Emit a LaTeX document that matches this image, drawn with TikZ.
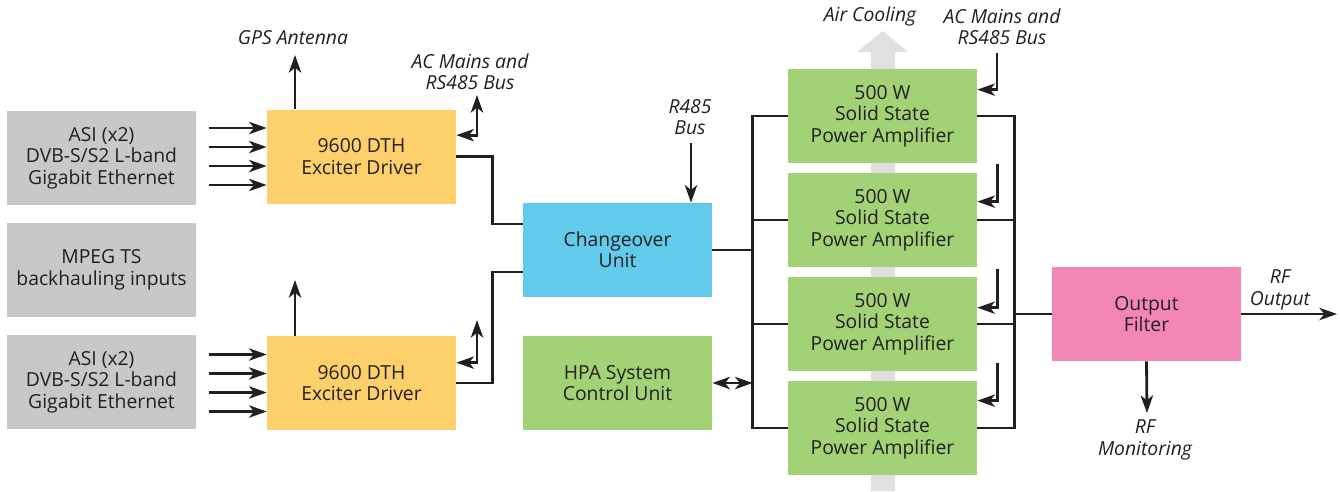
\documentclass[tikz,border=0pt]{standalone}
\usepackage{fontspec}
\setmainfont{Open Sans}
\usetikzlibrary{positioning, arrows.meta, calc}
\definecolor{inkc}{RGB}{35,31,32}
\definecolor{srcgray}{RGB}{200,200,202}
\definecolor{excyellow}{RGB}{253,208,107}
\definecolor{chgblue}{RGB}{98,203,236}
\definecolor{hpagreen}{RGB}{163,210,118}
\definecolor{filtpink}{RGB}{243,134,182}
\definecolor{airgray}{RGB}{224,224,226}

\begin{document}
\begin{tikzpicture}[x=0.2mm, y=-0.2mm,
    blk/.style={minimum width=37.8mm, minimum height=18.8mm, inner sep=0pt, align=center,
      text=inkc, font=\fontsize{11}{12.2}\selectfont},
    lbl/.style={align=center, inner sep=0pt, text=inkc, font=\itshape\fontsize{11}{12.2}\selectfont},
    wire/.style={draw=inkc, line width=1.6pt},
    arr/.style={wire, -{Stealth[length=10pt, width=7pt, inset=2.8pt]}},
    dbl/.style={wire, {Stealth[length=10pt, width=7pt, inset=2.8pt]}-{Stealth[length=10pt, width=7pt, inset=2.8pt]}}]
  \useasboundingbox (0,0) rectangle (1340,491);

  % air flow behind the amplifiers
  \fill[airgray] (871,491) -- (871,52) -- (857,52) -- (883,31) -- (908,52) -- (895,52) -- (895,491) -- cycle;
  \node[lbl] (air) at (870,16) {Air Cooling};

  % inputs
  \node[blk, fill=srcgray] (in1) at (101.5,158) {ASI (x2)\\DVB-S/S2 L-band\\Gigabit Ethernet};
  \node[blk, fill=srcgray] (mpeg) at (101.5,270) {MPEG TS\\backhauling inputs};
  \node[blk, fill=srcgray] (in2) at (101.5,382) {ASI (x2)\\DVB-S/S2 L-band\\Gigabit Ethernet};

  % exciters, changeover, control
  \node[blk, fill=excyellow] (exc1) at (361.5,156.5) {9600 DTH\\Exciter Driver};
  \node[blk, fill=excyellow] (exc2) at (361.5,383) {9600 DTH\\Exciter Driver};
  \node[blk, fill=chgblue] (chg) at (617.5,250) {Changeover\\Unit};
  \node[blk, fill=hpagreen] (hpa) at (617.5,383) {HPA System\\Control Unit};

  % amplifiers and filter
  \foreach \k in {1,...,4}
    \node[blk, fill=hpagreen] (amp\k) at (882.5,{116+104*(\k-1)}) {500 W\\Solid State\\Power Amplifier};
  \node[blk, fill=filtpink] (filt) at (1146.5,314) {Output\\Filter};

  \node[lbl] (gps) at (293,38) {GPS Antenna};
  \node[lbl] (ac1lbl) at (470,72) {AC Mains and\\RS485 Bus};
  \node[lbl] (rslbl) at (690,117) {R485\\Bus};
  \node[lbl] (acamplbl) at (1002,27) {AC Mains and\\RS485 Bus};
  \node[lbl] (rfoutlbl) at (1280,290) {RF\\Output};
  \node[lbl] (rfmonlbl) at (1145,440) {RF\\Monitoring};

  \coordinate (gpsend) at (295,55);
  \coordinate (gps2end) at (295,280);
  \coordinate (ac1) at (477,95);
  \coordinate (ac2) at (477,320);
  \coordinate (rs485) at (691,143);
  \coordinate (acamp) at (997,53);
  \coordinate (inbus) at ($(amp1.west)+(-35,0)$);
  \coordinate (outbus) at ($(amp1.east)+(37,0)$);
  \coordinate (rfout) at (1337,316);
  \coordinate (rfmon) at (1147,413);

  % exciter connections
  \foreach \dy in {-28.5,-9.5,9.5,28.5} {
    \draw[arr] ($(exc1.west)+(-58,\dy)$) -- ($(exc1.west)+(0,\dy)$);
    \draw[arr] ($(exc2.west)+(-58,\dy)$) -- ($(exc2.west)+(0,\dy)$);
  }
  \draw[arr] (exc1.north -| gpsend) -- (gpsend);
  \draw[arr] (exc2.north -| gps2end) -- (gps2end);
  \draw[dbl] (ac1) |- ($(exc1.north east)+(0,26)$);
  \draw[dbl] (ac2) |- ($(exc2.north east)+(0,27)$);
  \draw[wire] (exc1.east) -- ++(36,0) |- ($(chg.west)+(0,-26)$);
  \draw[wire] (exc2.east) -- ++(36,0) |- ($(chg.west)+(0,22)$);
  \draw[arr] (rs485) -- (rs485 |- chg.north);

  % amplifier buses
  \draw[wire] (amp1.west) -- (amp1.west -| inbus) |- (amp4.west);
  \draw[wire] (amp1.east) -- (amp1.east -| outbus) |- (amp4.east);
  \foreach \k in {2,3} {
    \draw[wire] (amp\k.west) -- (amp\k.west -| inbus);
    \draw[wire] (amp\k.east) -- (amp\k.east -| outbus);
  }
  \draw[wire] (chg.east) -- (chg.east -| inbus);
  \draw[dbl] (hpa.east) -- (hpa.east -| inbus);
  \draw[arr] (acamp) |- ($(amp1.north east)+(0,21)$);
  \foreach \k/\s/\e in {2/9/29, 3/8/31, 4/18/20}
    \draw[arr] ($(amp\k.north east)+(20,-\s)$) |- ($(amp\k.north east)+(0,\e)$);
  \draw[wire] (outbus |- filt.west) -- (filt.west);

  % outputs
  \draw[arr] (filt.east) -- (filt.east -| rfout);
  \draw[arr] (filt.south) -- (rfmon);
\end{tikzpicture}
\end{document}
